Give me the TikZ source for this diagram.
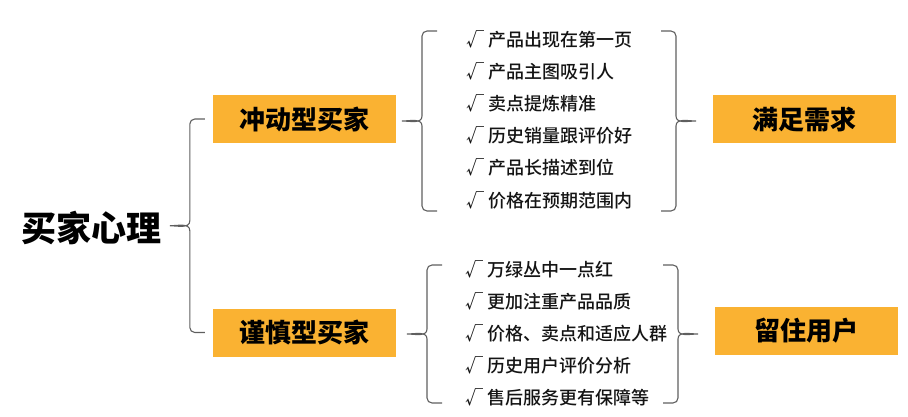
\documentclass[tikz,border=0pt]{standalone}
\usepackage{fontspec}
\setmainfont{Noto Sans CJK SC}
\newfontfamily\heavy{Noto Sans CJK SC Black}
\newfontfamily\medium{Noto Sans CJK SC Medium}
\usetikzlibrary{calc}
\definecolor{boxorange}{RGB}{250,178,50}
\definecolor{bracegray}{RGB}{95,95,95}
\definecolor{itemtext}{RGB}{20,20,20}
\tikzset{
  buyer/.style={fill=boxorange, minimum width=183pt, minimum height=48pt, inner sep=0pt,
    font=\fontsize{26}{30}\selectfont\heavy},
  item/.style={anchor=west, inner sep=0pt, text=itemtext, font=\fontsize{18}{22}\selectfont\medium},
  % brace from top end to bottom end, tip to the left
  lcurly/.style={draw=bracegray, line width=1.1pt, to path={
    let \p1=(\tikztostart), \p2=(\tikztotarget), \n1={(\y1+\y2)/2} in
    (\x1,\y1) -- (\x1-10pt,\y1) to[out=180,in=90] (\x1-15pt,\y1-5pt)
    -- (\x1-15pt,\n1+5pt) to[out=-90,in=0] (\x1-35pt,\n1)
    to[out=0,in=90] (\x1-15pt,\n1-5pt) -- (\x1-15pt,\y2+5pt)
    to[out=-90,in=180] (\x1-10pt,\y2) -- (\x1,\y2)}},
  % same, tip to the right
  rcurly/.style={draw=bracegray, line width=1.1pt, to path={
    let \p1=(\tikztostart), \p2=(\tikztotarget), \n1={(\y1+\y2)/2} in
    (\x1,\y1) -- (\x1+10pt,\y1) to[out=0,in=90] (\x1+15pt,\y1-5pt)
    -- (\x1+15pt,\n1+5pt) to[out=-90,in=180] (\x1+35pt,\n1)
    to[out=180,in=90] (\x1+15pt,\n1-5pt) -- (\x1+15pt,\y2+5pt)
    to[out=-90,in=0] (\x1+10pt,\y2) -- (\x1,\y2)}}
}
\begin{document}
\begin{tikzpicture}[x=1pt, y=-1pt]
  \useasboundingbox (0,0) rectangle (908,417);
  \node[font=\fontsize{35}{40}\selectfont\heavy] (root) at (91.5,228) {买家心理};
  % buyer types
  \node[buyer] (impulse) at (304.5,119) {冲动型买家};
  \node[buyer] (careful) at (304.5,332.5) {谨慎型买家};
  % results
  \node[buyer] (need) at (804,119.5) {满足需求};
  \node[buyer] (keep) at (806.5,330.5) {留住用户};
  % items
  \foreach \t [count=\i] in {产品出现在第一页, 产品主图吸引人, 卖点提炼精准,
      历史销量跟评价好, 产品长描述到位, 价格在预期范围内} {
    \node[item] (a\i) at (466,39+32.2*\i-32.2) {√ \t};
  }
  \foreach \t [count=\i] in {万绿丛中一点红, 更加注重产品品质, 价格、卖点和适应人群,
      历史用户评价分析, 售后服务更有保障等} {
    \node[item] (b\i) at (465,269+32*\i-32) {√ \t};
  }
  % brace ends
  \coordinate (m1t) at (437,31);
  \coordinate (m1b) at (437,211);
  \coordinate (r1t) at (661,31);
  \coordinate (r1b) at (661,211);
  \coordinate (m2t) at (442,265);
  \coordinate (m2b) at (442,403);
  \coordinate (r2t) at (663,265);
  \coordinate (r2b) at (663,403);
  \draw[lcurly] ([xshift=-8pt]impulse.west) to ([xshift=-8pt]careful.west);
  \draw[lcurly] (m1t) to (m1b);
  \draw[rcurly] (r1t) to (r1b);
  \draw[lcurly] (m2t) to (m2b);
  \draw[rcurly] (r2t) to (r2b);
\end{tikzpicture}
\end{document}
